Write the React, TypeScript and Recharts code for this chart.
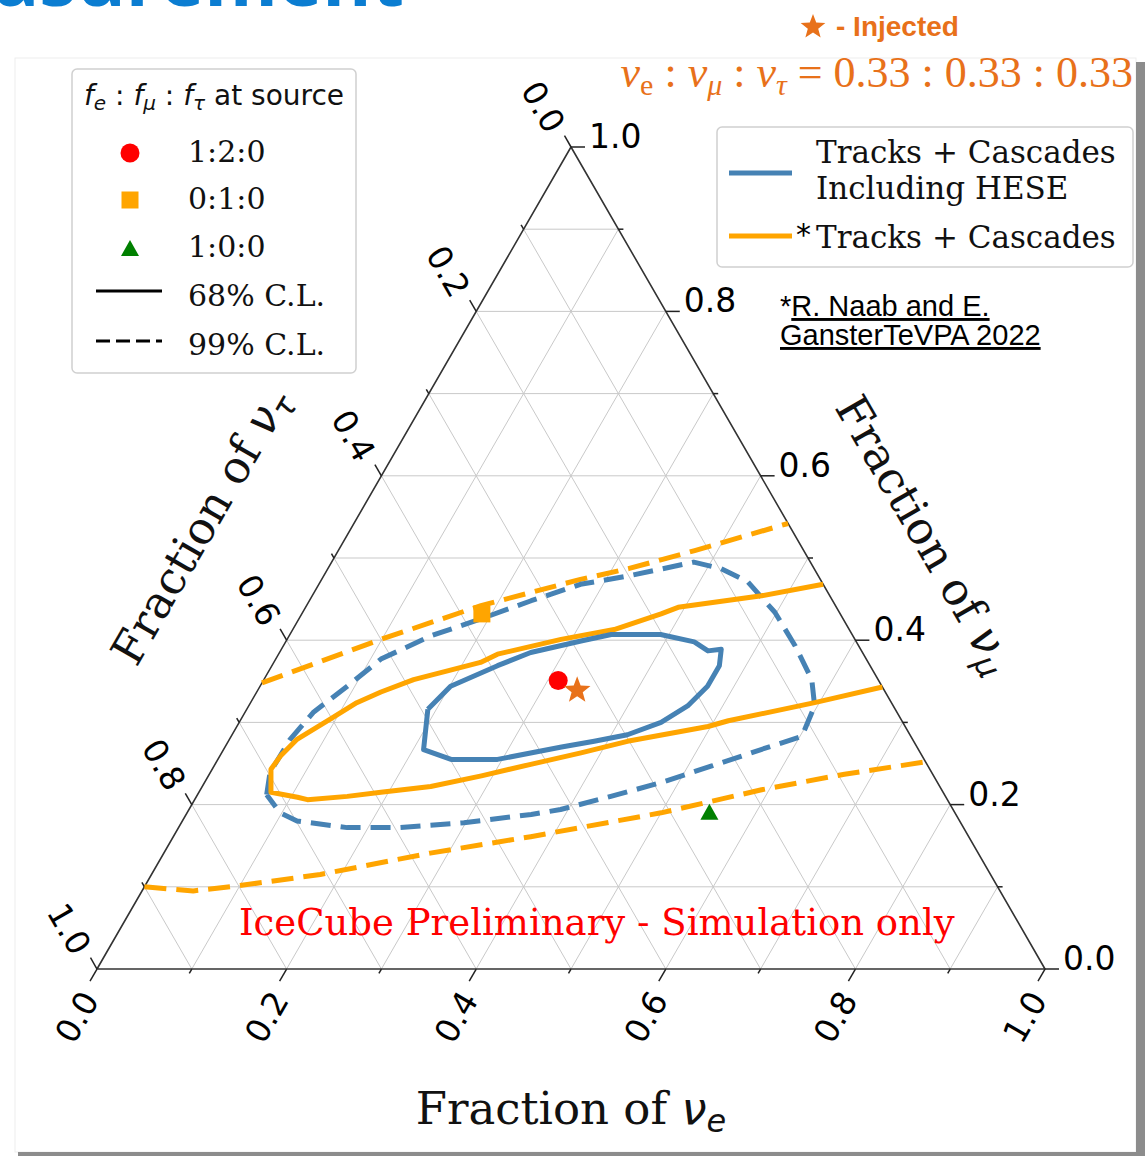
import React from 'react'
import { ScatterChart, Scatter, XAxis, YAxis } from 'recharts'

// every point is [fraction of nu_e, fraction of nu_mu]; nu_tau is what is left
type Pt = [number, number]

const BLUE_68: Pt[] = [
  [0.191, 0.316], [0.201, 0.344], [0.238, 0.369], [0.265, 0.385], [0.311, 0.399],
  [0.339, 0.407], [0.391, 0.407], [0.431, 0.398], [0.451, 0.387], [0.464, 0.389],
  [0.472, 0.369], [0.472, 0.344], [0.463, 0.32], [0.445, 0.3], [0.417, 0.285],
  [0.386, 0.277], [0.355, 0.27], [0.295, 0.255], [0.246, 0.255], [0.211, 0.267],
  [0.191, 0.316],
]

const BLUE_99: Pt[] = [
  [0.073, 0.212], [0.063, 0.239], [0.064, 0.279], [0.072, 0.312], [0.092, 0.344],
  [0.111, 0.377], [0.149, 0.405], [0.192, 0.426], [0.234, 0.448], [0.276, 0.468],
  [0.321, 0.478], [0.382, 0.495], [0.415, 0.487], [0.451, 0.471], [0.498, 0.434],
  [0.54, 0.393], [0.578, 0.352], [0.597, 0.32], [0.602, 0.283], [0.567, 0.267],
  [0.525, 0.247], [0.482, 0.227], [0.437, 0.21], [0.392, 0.194], [0.364, 0.188],
  [0.298, 0.178], [0.231, 0.172], [0.178, 0.172], [0.121, 0.18], [0.098, 0.19],
  [0.073, 0.212],
]

const ORANGE_68: Pt[] = [
  [0.532, 0.468], [0.474, 0.454], [0.393, 0.44], [0.379, 0.432], [0.339, 0.413],
  [0.289, 0.401], [0.231, 0.383], [0.218, 0.373], [0.158, 0.352], [0.131, 0.337],
  [0.112, 0.324], [0.094, 0.304], [0.071, 0.279], [0.064, 0.259], [0.062, 0.243],
  [0.076, 0.215], [0.107, 0.209], [0.119, 0.206], [0.159, 0.21], [0.192, 0.215],
  [0.241, 0.222], [0.288, 0.235], [0.333, 0.249], [0.379, 0.263], [0.421, 0.277],
  [0.497, 0.295], [0.515, 0.302], [0.595, 0.324], [0.657, 0.343],
]

const ORANGE_99_UPPER: Pt[] = [
  [0.0, 0.348], [0.099, 0.401], [0.184, 0.442], [0.273, 0.474], [0.317, 0.487],
  [0.376, 0.509], [0.458, 0.542],
]

const ORANGE_99_LOWER: Pt[] = [
  [0.0, 0.1], [0.054, 0.095], [0.097, 0.101], [0.178, 0.115], [0.281, 0.141],
  [0.377, 0.161], [0.5, 0.19], [0.592, 0.218], [0.67, 0.237], [0.748, 0.252],
]

const SOURCE_120: Pt[] = [[0.311, 0.351]]
const SOURCE_010: Pt[] = [[0.19, 0.432]]
const SOURCE_100: Pt[] = [[0.551, 0.19]]
const INJECTED: Pt[] = [[0.337, 0.339]]

const MAJOR_TICKS = [0, 0.2, 0.4, 0.6, 0.8, 1.0]
const MINOR_TICKS = [0.1, 0.3, 0.5, 0.7, 0.9]
const GRID_LEVELS = [0.1, 0.2, 0.3, 0.4, 0.5, 0.6, 0.7, 0.8, 0.9]

const W = 1145
const H = 1156
const MARGIN = { top: 147, right: 100, bottom: 187, left: 97 }

const BLUE = '#4682b4'
const ORANGE = '#ffa500'
const INJ = '#e8711a'
const TICK_FONT = "'DejaVu Sans', sans-serif"
const SERIF = "'DejaVu Serif', serif"
const TICK_SIZE = 33

const toXY = ([fe, fmu]: Pt) => ({ x: fe + fmu / 2, y: fmu })

const noShape = () => <g />

function starPoints(cx: number, cy: number, R: number) {
  const pts: string[] = []
  for (let i = 0; i < 10; i++) {
    const r = i % 2 === 0 ? R : R * 0.42
    const a = -Math.PI / 2 + (i * Math.PI) / 5
    pts.push(`${cx + r * Math.cos(a)},${cy + r * Math.sin(a)}`)
  }
  return pts.join(' ')
}

function lineSeries(key: string, pts: Pt[], stroke: string, width: number, dash?: string) {
  return (
    <Scatter
      key={key}
      data={pts.map(toXY)}
      fill={stroke}
      line={{ stroke, strokeWidth: width, strokeDasharray: dash, strokeLinejoin: 'round' }}
      shape={noShape}
      isAnimationActive={false}
    />
  )
}

// grid lines of constant nu_mu, nu_e and nu_tau
const gridLines: Pt[][] = GRID_LEVELS.flatMap((v) => [
  [[0, v], [1 - v, v]] as Pt[],
  [[v, 0], [v, 1 - v]] as Pt[],
  [[1 - v, 0], [0, 1 - v]] as Pt[],
])

const triangle: Pt[] = [[0, 0], [1, 0], [0, 1], [0, 0]]

const bottomTicks = (vals: number[]) => vals.map((v) => ({ ...toXY([v, 0]), label: v.toFixed(1) }))
const rightTicks = (vals: number[]) => vals.map((v) => ({ ...toXY([1 - v, v]), label: v.toFixed(1) }))
const leftTicks = (vals: number[]) => vals.map((v) => ({ ...toXY([0, 1 - v]), label: v.toFixed(1) }))

const BottomTick = (major: boolean) => (p: any) => {
  const len = major ? 14 : 5
  return (
    <g>
      <line x1={p.cx} y1={p.cy} x2={p.cx - 0.5 * len} y2={p.cy + 0.866 * len} stroke="#222" strokeWidth={1.5} />
      {major && (
        <text
          transform={`translate(${p.cx - 20},${p.cy + 48}) rotate(-60)`}
          textAnchor="middle"
          dominantBaseline="central"
          fontFamily={TICK_FONT}
          fontSize={TICK_SIZE}
          fill="#000"
        >
          {p.payload.label}
        </text>
      )}
    </g>
  )
}

const RightTick = (major: boolean) => (p: any) => {
  const len = major ? 14 : 5
  return (
    <g>
      <line x1={p.cx} y1={p.cy} x2={p.cx + len} y2={p.cy} stroke="#222" strokeWidth={1.5} />
      {major && (
        <text x={p.cx + 18} y={p.cy + 1} fontFamily={TICK_FONT} fontSize={TICK_SIZE} fill="#000">
          {p.payload.label}
        </text>
      )}
    </g>
  )
}

const LeftTick = (major: boolean) => (p: any) => {
  const len = major ? 13 : 5
  return (
    <g>
      <line x1={p.cx} y1={p.cy} x2={p.cx - 0.5 * len} y2={p.cy - 0.866 * len} stroke="#222" strokeWidth={1.5} />
      {major && (
        <text
          transform={`translate(${p.cx - 28},${p.cy - 40}) rotate(60)`}
          textAnchor="middle"
          dominantBaseline="central"
          fontFamily={TICK_FONT}
          fontSize={TICK_SIZE}
          fill="#000"
        >
          {p.payload.label}
        </text>
      )}
    </g>
  )
}

const circleShape = (p: any) => <circle cx={p.cx} cy={p.cy} r={9.5} fill="#ff0000" />
const squareShape = (p: any) => <rect x={p.cx - 8.5} y={p.cy - 8.5} width={17} height={17} fill={ORANGE} />
const triangleShape = (p: any) => (
  <polygon points={`${p.cx},${p.cy - 9} ${p.cx - 9},${p.cy + 7} ${p.cx + 9},${p.cy + 7}`} fill="#008000" />
)
const starShape = (p: any) => <polygon points={starPoints(p.cx, p.cy, 14)} fill={INJ} />

function Overlay() {
  return (
    <svg width={W} height={H} style={{ position: 'absolute', left: 0, top: 0, pointerEvents: 'none' }}>
      {/* slide frame */}
      <rect x={15} y={58} width={1121} height={1094} fill="none" stroke="#ededed" strokeWidth={1} />
      <rect x={1136} y={62} width={9} height={1094} fill="#8c8c8c" />
      <rect x={18} y={1152} width={1127} height={4} fill="#8c8c8c" />

      {/* cut off slide title */}
      <text x={-6} y={6} fontFamily="'Open Sans', sans-serif" fontWeight={700} fontSize={75} fill="#0b7dd1">
        asurement
      </text>

      {/* injected flavour note */}
      <polygon points={starPoints(813, 27, 13)} fill={INJ} />
      <text x={836} y={36} fontFamily="'Liberation Sans', Arial, sans-serif" fontWeight={700} fontSize={28} fill={INJ}>
        - Injected
      </text>
      <text x={1133} y={87} textAnchor="end" fontFamily="'Liberation Serif', serif" fontSize={44} fill={INJ}>
        <tspan fontStyle="italic">ν</tspan>
        <tspan fontSize={30} dy={8}>e</tspan>
        <tspan dy={-8}> : </tspan>
        <tspan fontStyle="italic">ν</tspan>
        <tspan fontSize={30} fontStyle="italic" dy={8}>μ</tspan>
        <tspan dy={-8}> : </tspan>
        <tspan fontStyle="italic">ν</tspan>
        <tspan fontSize={30} fontStyle="italic" dy={8}>τ</tspan>
        <tspan dy={-8}> = 0.33 : 0.33 : 0.33</tspan>
      </text>

      {/* source legend */}
      <rect x={72} y={69} width={284} height={304} rx={5} fill="#fff" fillOpacity={0.8} stroke="#d0d0d0" strokeWidth={1.5} />
      <text x={214} y={105} textAnchor="middle" fontFamily={TICK_FONT} fontSize={28} fill="#111">
        <tspan fontStyle="italic">f</tspan>
        <tspan fontStyle="italic" fontSize={20} dy={5}>e</tspan>
        <tspan dy={-5}> : </tspan>
        <tspan fontStyle="italic">f</tspan>
        <tspan fontStyle="italic" fontSize={20} dy={5}>μ</tspan>
        <tspan dy={-5}> : </tspan>
        <tspan fontStyle="italic">f</tspan>
        <tspan fontStyle="italic" fontSize={20} dy={5}>τ</tspan>
        <tspan dy={-5}> at source</tspan>
      </text>
      <circle cx={130} cy={153} r={9.5} fill="#ff0000" />
      <rect x={121.5} y={191.5} width={17} height={17} fill={ORANGE} />
      <polygon points="130,240 121,256 139,256" fill="#008000" />
      <line x1={96} y1={291} x2={162} y2={291} stroke="#000" strokeWidth={2.8} />
      <line x1={96} y1={341} x2={162} y2={341} stroke="#000" strokeWidth={2.8} strokeDasharray="14 6" />
      <g fontFamily={SERIF} fontSize={30} fill="#111">
        <text x={188} y={162}>1:2:0</text>
        <text x={188} y={209}>0:1:0</text>
        <text x={188} y={257}>1:0:0</text>
        <text x={188} y={306}>68% C.L.</text>
        <text x={188} y={355}>99% C.L.</text>
      </g>

      {/* sample legend */}
      <rect x={717} y={127} width={416} height={140} rx={5} fill="#fff" fillOpacity={0.8} stroke="#d0d0d0" strokeWidth={1.5} />
      <line x1={729} y1={173} x2={792} y2={173} stroke={BLUE} strokeWidth={5} />
      <line x1={729} y1={236} x2={792} y2={236} stroke={ORANGE} strokeWidth={5} />
      <g fontFamily={SERIF} fontSize={31} fill="#111">
        <text x={816} y={163}>Tracks + Cascades</text>
        <text x={816} y={199}>Including HESE</text>
        <text x={816} y={248}>Tracks + Cascades</text>
      </g>
      <text x={796} y={245} fontFamily={TICK_FONT} fontSize={30} fill="#000">*</text>

      {/* reference */}
      <g fontFamily="'Liberation Sans', Arial, sans-serif" fontSize={29} fill="#000">
        <text x={780} y={316}>
          *<tspan style={{ textDecoration: 'underline' }}>R. Naab and E.</tspan>
        </text>
        <text x={780} y={345} style={{ textDecoration: 'underline' }}>GansterTeVPA 2022</text>
      </g>

      <text x={239} y={935} fontFamily={SERIF} fontSize={37} fill="#ff0000">
        IceCube Preliminary - Simulation only
      </text>

      {/* axis titles */}
      <text x={571} y={1124} textAnchor="middle" fontFamily={SERIF} fontSize={45} fill="#111">
        Fraction of{' '}
        <tspan fontFamily={TICK_FONT} fontStyle="italic">ν</tspan>
        <tspan fontFamily={TICK_FONT} fontStyle="italic" fontSize={32} dy={8}>e</tspan>
      </text>
      <text
        transform="translate(202,527) rotate(-60)"
        textAnchor="middle"
        dy={14}
        fontFamily={SERIF}
        fontSize={45}
        fill="#111"
      >
        Fraction of{' '}
        <tspan fontFamily={TICK_FONT} fontStyle="italic">ν</tspan>
        <tspan fontFamily={TICK_FONT} fontStyle="italic" fontSize={32} dy={8}>τ</tspan>
      </text>
      <text
        transform="translate(924,535) rotate(60)"
        textAnchor="middle"
        dy={14}
        fontFamily={SERIF}
        fontSize={45}
        fill="#111"
      >
        Fraction of{' '}
        <tspan fontFamily={TICK_FONT} fontStyle="italic">ν</tspan>
        <tspan fontFamily={TICK_FONT} fontStyle="italic" fontSize={32} dy={8}>μ</tspan>
      </text>
    </svg>
  )
}

export default function App() {
  return (
    <div style={{ position: 'absolute', left: 0, top: 0, width: W, height: H, background: '#fff', overflow: 'hidden' }}>
      <ScatterChart width={W} height={H} margin={MARGIN}>
        <XAxis type="number" dataKey="x" domain={[0, 1]} hide />
        <YAxis type="number" dataKey="y" domain={[0, 1]} hide />
        {gridLines.map((g, i) => lineSeries(`grid-${i}`, g, '#c9c9c9', 1))}
        {lineSeries('frame', triangle, '#333', 1.6)}
        <Scatter data={bottomTicks(MAJOR_TICKS)} shape={BottomTick(true)} isAnimationActive={false} />
        <Scatter data={bottomTicks(MINOR_TICKS)} shape={BottomTick(false)} isAnimationActive={false} />
        <Scatter data={rightTicks(MAJOR_TICKS)} shape={RightTick(true)} isAnimationActive={false} />
        <Scatter data={rightTicks(MINOR_TICKS)} shape={RightTick(false)} isAnimationActive={false} />
        <Scatter data={leftTicks(MAJOR_TICKS)} shape={LeftTick(true)} isAnimationActive={false} />
        <Scatter data={leftTicks(MINOR_TICKS)} shape={LeftTick(false)} isAnimationActive={false} />
        {lineSeries('o99u', ORANGE_99_UPPER, ORANGE, 5, '22 10')}
        {lineSeries('o99l', ORANGE_99_LOWER, ORANGE, 5, '22 10')}
        {lineSeries('b99', BLUE_99, BLUE, 5, '20 10')}
        {lineSeries('o68', ORANGE_68, ORANGE, 5)}
        {lineSeries('b68', BLUE_68, BLUE, 5)}
        <Scatter data={SOURCE_010.map(toXY)} shape={squareShape} isAnimationActive={false} />
        <Scatter data={SOURCE_100.map(toXY)} shape={triangleShape} isAnimationActive={false} />
        <Scatter data={SOURCE_120.map(toXY)} shape={circleShape} isAnimationActive={false} />
        <Scatter data={INJECTED.map(toXY)} shape={starShape} isAnimationActive={false} />
      </ScatterChart>
      <Overlay />
    </div>
  )
}
